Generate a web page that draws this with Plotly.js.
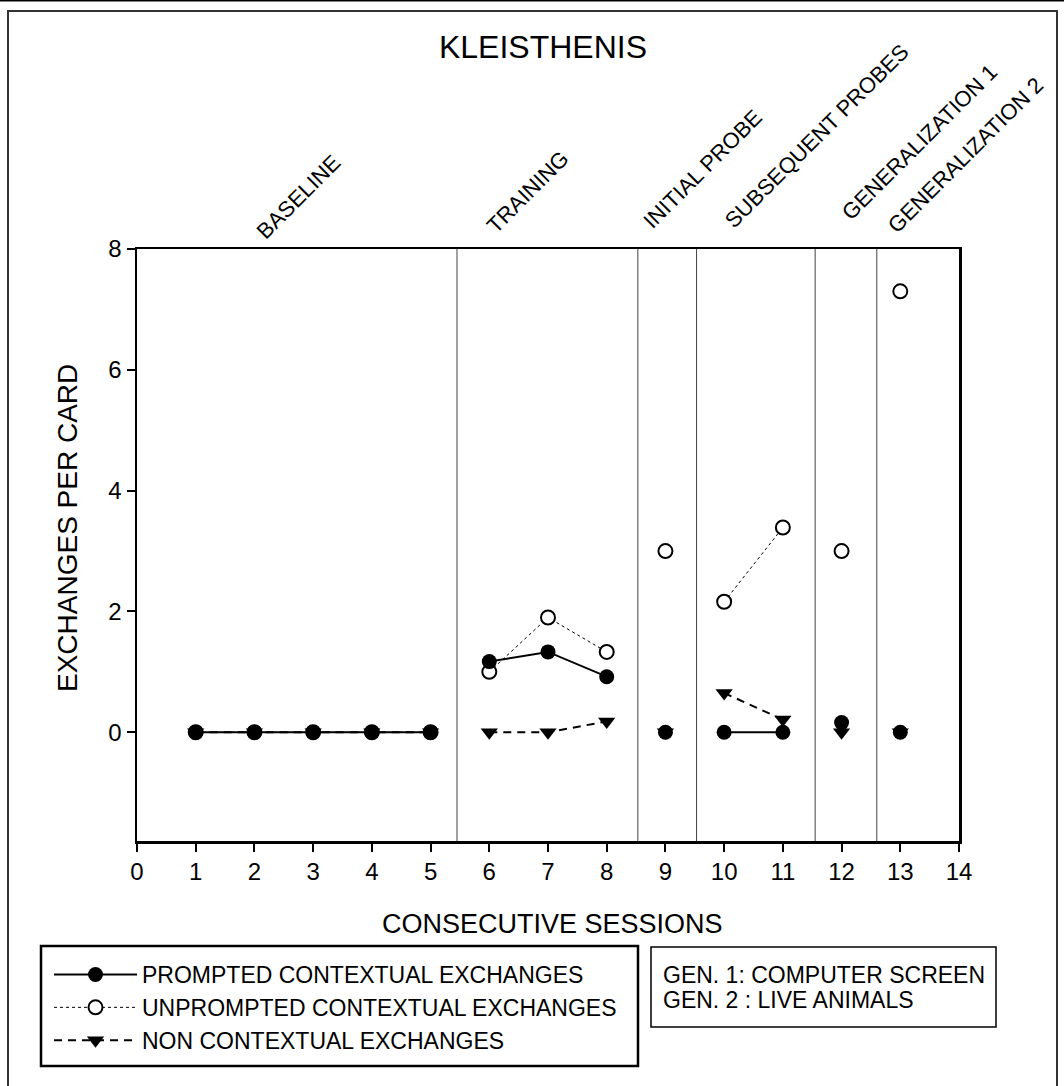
<!DOCTYPE html>
<html>
<head>
<meta charset="utf-8">
<script src="https://cdn.plot.ly/plotly-3.0.1.min.js"></script>
<style>html,body{margin:0;padding:0;background:#fff;}#chart{width:1064px;height:1086px;}</style>
</head>
<body>
<div id="chart"></div>
<script>
// ---- data ----
const sessions = [1, 2, 3, 4, 5, 6, 7, 8, 9, 10, 11, 12, 13];
const phaseOfSession = [0, 0, 0, 0, 0, 1, 1, 1, 2, 3, 3, 4, 5];
const prompted = [0, 0, 0, 0, 0, 1.17, 1.33, 0.92, 0, 0, 0, 0.16, 0];
const unprompted = [0, 0, 0, 0, 0, 1.0, 1.9, 1.33, 3.0, 2.16, 3.39, 3.0, 7.3];
const nonContextual = [0, 0, 0, 0, 0, 0, 0, 0.18, 0, 0.65, 0.21, 0, 0];
const phaseLabels = ["BASELINE", "TRAINING", "INITIAL PROBE", "SUBSEQUENT PROBES", "GENERALIZATION 1", "GENERALIZATION 2"];
const phaseBoundaries = [5.45, 8.53, 9.53, 11.55, 12.6];
const seriesNames = ["PROMPTED CONTEXTUAL EXCHANGES", "UNPROMPTED CONTEXTUAL EXCHANGES", "NON CONTEXTUAL EXCHANGES"];
const noteLines = ["GEN. 1: COMPUTER SCREEN", "GEN. 2 : LIVE ANIMALS"];
const xTicks = [0, 1, 2, 3, 4, 5, 6, 7, 8, 9, 10, 11, 12, 13, 14];
const yTicks = [0, 2, 4, 6, 8];

// ---- layout helpers (pixel geometry) ----
const W = 1064, H = 1086;
const L = 137, R = 959, T = 249, B = 841;
const px = v => (v - L) / (R - L);
const py = v => (B - v) / (B - T);

function splitByPhase(vals) {
  const xs = [], ys = [];
  for (let i = 0; i < sessions.length; i++) {
    if (i > 0 && phaseOfSession[i] !== phaseOfSession[i - 1]) { xs.push(null); ys.push(null); }
    xs.push(sessions[i]); ys.push(vals[i]);
  }
  return {x: xs, y: ys};
}

const FONT = '"Liberation Sans", Arial, sans-serif';
const u = splitByPhase(unprompted), n = splitByPhase(nonContextual), p = splitByPhase(prompted);

const traces = [
  {x: u.x, y: u.y, name: seriesNames[1], mode: 'lines+markers', connectgaps: false,
   line: {color: '#000', width: 1, dash: 'dot'},
   marker: {symbol: 'circle', size: 14, color: '#fff', line: {color: '#000', width: 2}}, legendrank: 2},
  {x: n.x, y: n.y, name: seriesNames[2], mode: 'lines+markers', connectgaps: false,
   line: {color: '#000', width: 2, dash: '8px,6px'},
   marker: {symbol: 'triangle-down', size: 15, color: '#000'}, legendrank: 3},
  {x: p.x, y: p.y, name: seriesNames[0], mode: 'lines+markers', connectgaps: false,
   line: {color: '#000', width: 2},
   marker: {symbol: 'circle', size: 15, color: '#000'}, legendrank: 1}
];

const shapes = phaseBoundaries.map(b => ({type: 'line', xref: 'x', yref: 'paper', x0: b, x1: b, y0: 0, y1: 1,
  line: {color: '#444', width: 1}}));
// outer frame
shapes.push({type: 'rect', xref: 'paper', yref: 'paper', x0: px(8), x1: px(1057), y0: py(11), y1: py(1095),
  line: {color: '#333', width: 2}, layer: 'below'});
shapes.push({type: 'line', xref: 'paper', yref: 'paper', x0: px(0), x1: px(1064), y0: py(0.5), y1: py(0.5),
  line: {color: '#000', width: 2}});
// legend box
shapes.push({type: 'rect', xref: 'paper', yref: 'paper', x0: px(41), x1: px(638), y0: py(946), y1: py(1066),
  line: {color: '#000', width: 2.5}});
// note box
shapes.push({type: 'rect', xref: 'paper', yref: 'paper', x0: px(651), x1: px(996), y0: py(947), y1: py(1027),
  line: {color: '#000', width: 1.5}});

// phase label centers (pixels)
const labelCenters = [[299, 197], [527, 192], [702, 169], [816, 136], [919, 142], [965, 155]];
const annotations = phaseLabels.map((t, i) => ({
  text: t, xref: 'paper', yref: 'paper', x: px(labelCenters[i][0]), y: py(labelCenters[i][1]),
  xanchor: 'center', yanchor: 'middle', textangle: -45, showarrow: false,
  font: {family: FONT, size: 22, color: '#000'}
}));
annotations.push({text: 'CONSECUTIVE SESSIONS', xref: 'paper', yref: 'paper', x: px(552), y: py(924),
  xanchor: 'center', yanchor: 'middle', showarrow: false, font: {family: FONT, size: 27, color: '#000'}});
annotations.push({text: 'EXCHANGES PER CARD', xref: 'paper', yref: 'paper', x: px(67), y: py(528),
  xanchor: 'center', yanchor: 'middle', textangle: -90, showarrow: false, font: {family: FONT, size: 28, color: '#000'}});
noteLines.forEach((t, i) => annotations.push({text: t, xref: 'paper', yref: 'paper', x: px(661), y: py(975 + i * 25),
  xanchor: 'left', yanchor: 'middle', showarrow: false, font: {family: FONT, size: 23, color: '#000'}}));

const layout = {
  width: W, height: H,
  margin: {l: L, r: W - R, t: T, b: H - B},
  paper_bgcolor: '#fff', plot_bgcolor: '#fff',
  font: {family: FONT, color: '#000'},
  title: {text: 'KLEISTHENIS', x: 543 / W, xref: 'container', xanchor: 'center', y: 1 - 47 / H, yref: 'container', yanchor: 'middle',
    font: {family: FONT, size: 32, color: '#000'}},
  xaxis: {range: [0, 14], tickvals: xTicks, ticks: 'outside', ticklen: 8, tickwidth: 2, tickcolor: '#000',
    showline: true, linewidth: 2.5, linecolor: '#000', mirror: true, showgrid: false, zeroline: false,
    tickfont: {family: FONT, size: 24, color: '#000'}},
  yaxis: {range: [-1.8, 8], tickvals: yTicks, ticks: 'outside', ticklen: 8, tickwidth: 2, tickcolor: '#000',
    showline: true, linewidth: 2.5, linecolor: '#000', mirror: true, showgrid: false, zeroline: false,
    tickfont: {family: FONT, size: 24, color: '#000'}},
  showlegend: true,
  legend: {x: px(49), y: py(953), xanchor: 'left', yanchor: 'top', bgcolor: 'rgba(0,0,0,0)', borderwidth: 0,
    font: {family: FONT, size: 23, color: '#000'}, traceorder: 'normal', itemwidth: 83, tracegroupgap: 0},
  shapes: shapes,
  annotations: annotations
};

Plotly.newPlot('chart', traces, layout, {displayModeBar: false, staticPlot: true});
</script>
</body>
</html>
